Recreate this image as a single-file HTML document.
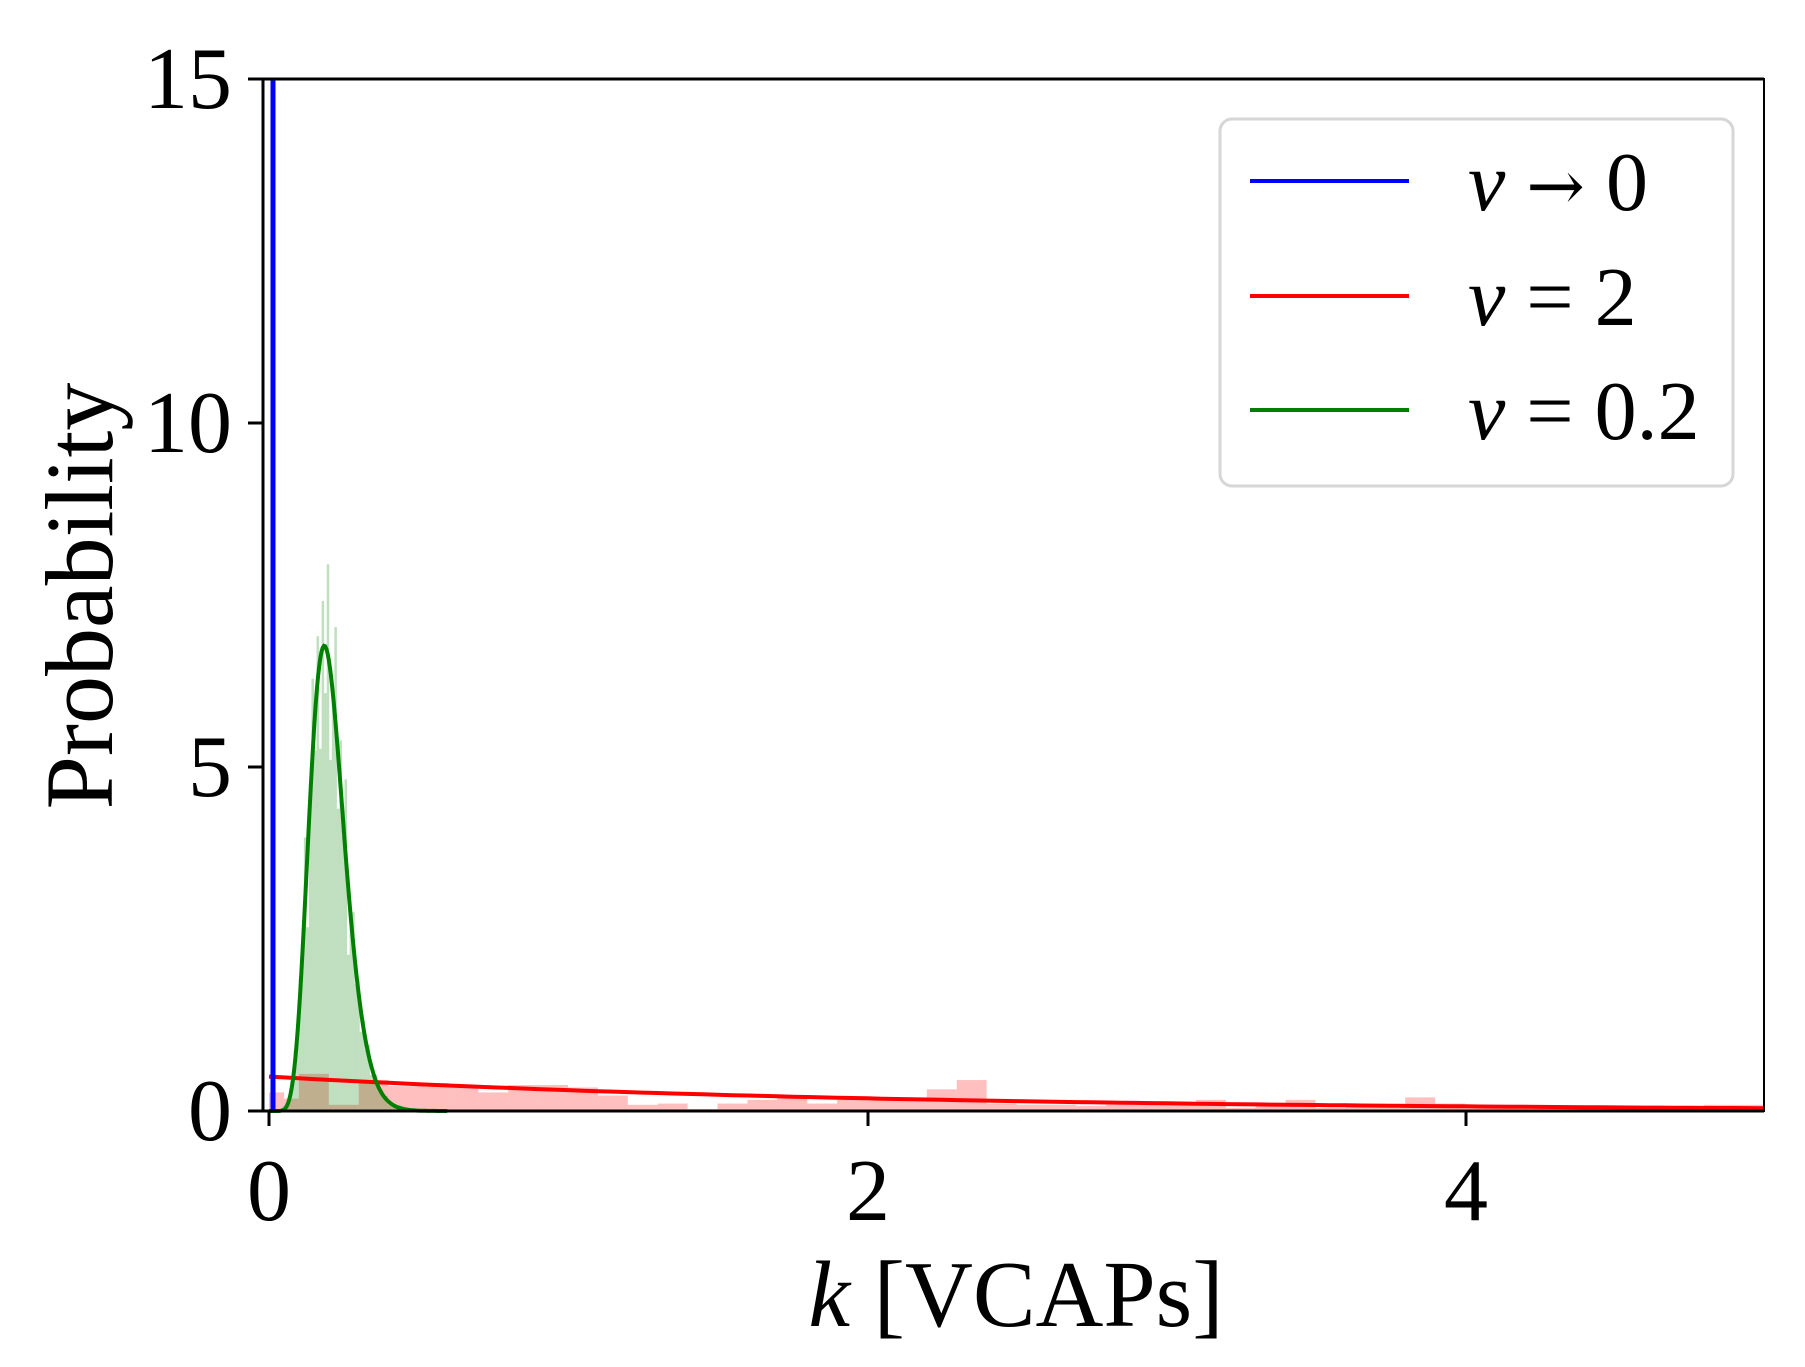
<!DOCTYPE html>
<html><head><meta charset="utf-8"><style>
html,body{margin:0;padding:0;background:#fff;}
svg{display:block;}
text{font-family:"Liberation Serif","DejaVu Serif",serif;fill:#000;}
</style></head><body>
<svg id="s" width="1805" height="1367" viewBox="0 0 1805 1367" xmlns="http://www.w3.org/2000/svg">
<g id="hist"></g>
<g id="curves"></g>
<line x1="273" y1="79" x2="273" y2="1111" stroke="#0000ff" stroke-width="5"/>
<line x1="263" y1="79" x2="1764" y2="79" stroke="#000" stroke-width="3"/>
<line x1="263" y1="1111" x2="1764" y2="1111" stroke="#000" stroke-width="3"/>
<line x1="263" y1="78" x2="263" y2="1112" stroke="#000" stroke-width="3"/>
<line x1="1764" y1="78" x2="1764" y2="1112" stroke="#000" stroke-width="2"/>
<g stroke="#000" stroke-width="3">
<line x1="248" y1="1111" x2="263" y2="1111"/>
<line x1="248" y1="767" x2="263" y2="767"/>
<line x1="248" y1="423" x2="263" y2="423"/>
<line x1="248" y1="79" x2="263" y2="79"/>
<line x1="269" y1="1111" x2="269" y2="1126"/>
<line x1="868" y1="1111" x2="868" y2="1126"/>
<line x1="1466" y1="1111" x2="1466" y2="1126"/>
</g>
<g font-size="88" text-anchor="end">
<text x="232" y="1140">0</text>
<text x="232" y="796">5</text>
<text x="232" y="452">10</text>
<text x="232" y="108">15</text>
</g>
<g font-size="88" text-anchor="middle">
<text x="269" y="1220">0</text>
<text x="868" y="1220">2</text>
<text x="1466" y="1220">4</text>
</g>
<text x="1016" y="1326" font-size="94" text-anchor="middle"><tspan font-style="italic">k</tspan> [VCAPs]</text>
<text transform="translate(112,596) rotate(-90)" font-size="96" text-anchor="middle">Probability</text>
<rect x="1220" y="119" width="513" height="367" rx="12" fill="#fff" fill-opacity="0.8" stroke="#d6d6d6" stroke-width="3"/>
<line x1="1250" y1="181" x2="1409" y2="181" stroke="#0000ff" stroke-width="4"/>
<line x1="1250" y1="296" x2="1409" y2="296" stroke="#ff0000" stroke-width="4"/>
<line x1="1250" y1="410" x2="1409" y2="410" stroke="#008000" stroke-width="4"/>
<g font-size="84">
<text x="1468" y="210"><tspan font-style="italic">v</tspan> <tspan font-family="DejaVu Serif" font-size="70">→</tspan> 0</text>
<text x="1468" y="325"><tspan font-style="italic">v</tspan> = 2</text>
<text x="1468" y="439"><tspan font-style="italic">v</tspan> = 0.2</text>
</g>
</svg>
<script>
(function(){
var X0=269,SX=299,Y0=1111,SY=68.8;
function px(k){return X0+k*SX;} function py(v){return Y0-v*SY;}
var ns="http://www.w3.org/2000/svg";
var h=document.getElementById("hist"),c=document.getElementById("curves");
function rect(x0,x1,v,col){var r=document.createElementNS(ns,"rect");r.setAttribute("x",px(x0));r.setAttribute("width",Math.max(0.5,px(x1)-px(x0)));r.setAttribute("y",py(v));r.setAttribute("height",v*SY);r.setAttribute("fill",col);r.setAttribute("fill-opacity","0.25");h.appendChild(r);}
var rh=[0.3,0.2,0.6,0.1,0.5,0.4,0.45,0.42,0.3,0.42,0.42,0.38,0.25,0.1,0.12,0.03,0.12,0.18,0.25,0.12,0.18,0.2,0.2,0.35,0.5,0.12,0.1,0.1,0.08,0.1,0.12,0.12,0.18,0.05,0.1,0.18,0.05,0.1,0.1,0.22,0.12,0.1,0.1,0.05,0.08,0.06,0.05,0.05,0.05,0.1];
var rb=[0,0.05,0.1,0.2,0.3,0.4,0.5,0.6,0.7,0.8,0.9,1.0,1.1,1.2,1.3,1.4,1.5,1.6,1.7,1.8,1.9,2.0,2.1,2.2,2.3,2.4,2.5,2.6,2.7,2.8,2.9,3.0,3.1,3.2,3.3,3.4,3.5,3.6,3.7,3.8,3.9,4.0,4.1,4.2,4.3,4.4,4.5,4.6,4.7,4.8,5.0];
for(var i=0;i<rh.length&&i<rb.length-1;i++)rect(rb[i],rb[i+1],rh[i]*0.9,"#ff0000");
function gpdf(k){var a=11,s=0.0185;if(k<=0)return 0;var lg=0;for(var j=1;j<a;j++)lg+=Math.log(j);return Math.exp((a-1)*Math.log(k)-k/s-lg-a*Math.log(s));}
var noise=[1.1,0.9,1.2,0.8,1.0,1.25,0.85,1.15,0.95,1.3,0.7,1.05,1.2,0.9,1.1,0.8];
var w=0.0085;
for(var i=0;i<50;i++){var k=0.04+i*w;var v=gpdf(k+w/2)*noise[i%16];if(v>0.02)rect(k,k+w,v,"#008000");}
var d="";for(var k=0;k<=5.001;k+=0.05){d+=(k==0?"M":"L")+px(k).toFixed(1)+","+py(0.5*Math.exp(-0.5*k)).toFixed(1);}
var p=document.createElementNS(ns,"path");p.setAttribute("d",d);p.setAttribute("fill","none");p.setAttribute("stroke","#ff0000");p.setAttribute("stroke-width","4");c.appendChild(p);
d="";for(var k=0.0;k<=0.6;k+=0.004){d+=(k==0?"M":"L")+px(k).toFixed(1)+","+py(gpdf(k)).toFixed(1);}
p=document.createElementNS(ns,"path");p.setAttribute("d",d);p.setAttribute("fill","none");p.setAttribute("stroke","#008000");p.setAttribute("stroke-width","4");c.appendChild(p);
})();
</script>
</body></html>
